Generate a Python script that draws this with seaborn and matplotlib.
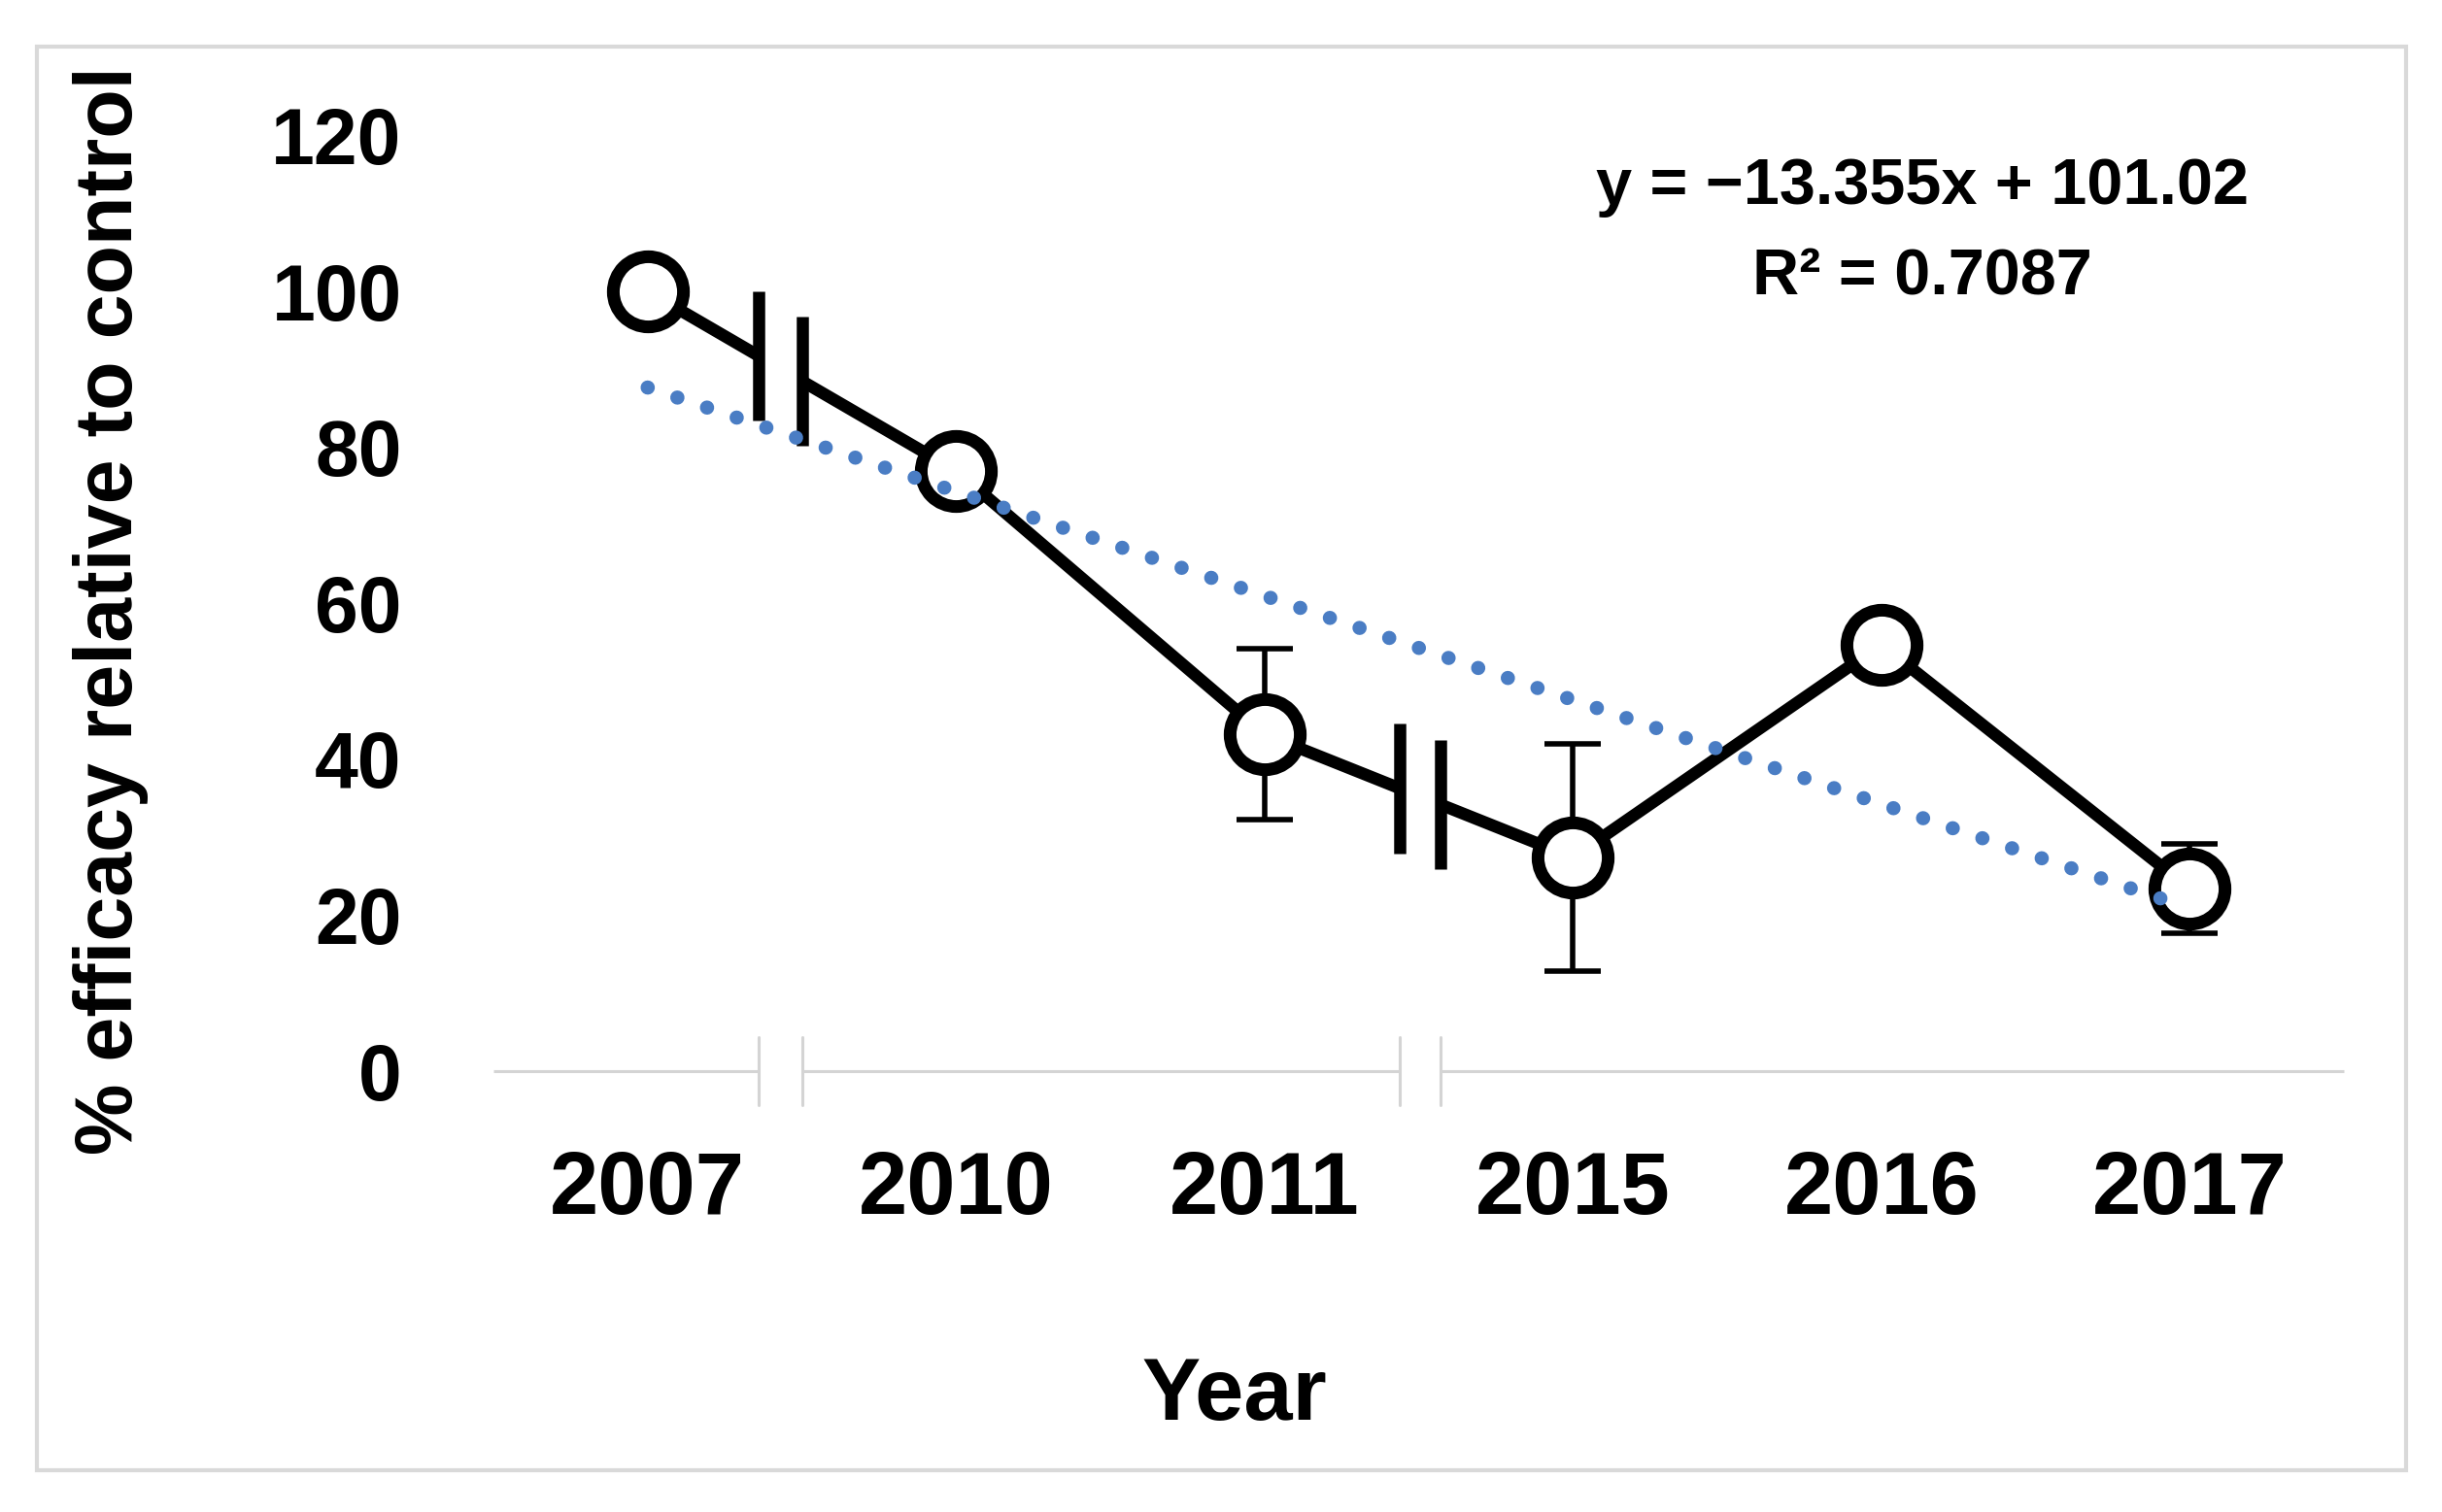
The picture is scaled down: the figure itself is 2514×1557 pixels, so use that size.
import numpy as np
import matplotlib
matplotlib.use("Agg")
import matplotlib.pyplot as plt
from matplotlib.patches import Rectangle
import seaborn as sns

# values
years = ["2007", "2010", "2011", "2015", "2016", "2017"]
efficacy = [100, 77, 43.2, 27.4, 54.7, 23.4]
err = [0, 0, 11, 14.6, 0, 5.7]

# Excel linear trendline shown on the chart
slope = -13.355
intercept = 101.02
r2 = 0.7087

# axis breaks: (start, end) between categories
breaks = [(0.36, 0.50), (2.44, 2.57)]

sns.set_style("white")
plt.rcParams["font.family"] = ["Liberation Sans", "DejaVu Sans"]
plt.rcParams["font.weight"] = "bold"
for key in ("text.color", "axes.labelcolor", "xtick.color", "ytick.color"):
    plt.rcParams[key] = "black"

fig = plt.figure(figsize=(25.14, 15.57), dpi=100)
ax = fig.add_axes([508 / 2514, 1 - 1103 / 1557, 1905 / 2514, 963.6 / 1557])

xpos = np.arange(len(years))

ax.errorbar(xpos, efficacy, yerr=err, fmt="none", ecolor="black",
            elinewidth=4, capsize=21, capthick=4, zorder=1.5)

sns.lineplot(x=xpos, y=efficacy, ax=ax, color="black", linewidth=9,
             marker="o", markersize=52, markerfacecolor="white",
             markeredgecolor="black", markeredgewidth=9.4, zorder=2)

# trendline
tx = xpos
ty = slope * (tx + 1) + intercept
ax.plot(tx, ty, color="#4A7DC4", linewidth=10.5, linestyle=(0, (0.01, 2.2)),
        dash_capstyle="round", zorder=4)

# break marks on the series and on the x axis
gray = "#d4d4d4"
for b1, b2 in breaks:
    y1 = np.interp(b1, xpos, efficacy)
    y2 = np.interp(b2, xpos, efficacy)
    ax.plot([b1, b2], [y1, y2], color="white", linewidth=16,
            solid_capstyle="butt", zorder=2.5)
    for bx, by in ((b1, y1), (b2, y2)):
        ax.plot([bx, bx], [by - 8.3, by + 8.3], color="black", linewidth=9,
                solid_capstyle="butt", zorder=3)
        ax.plot([bx, bx], [-4.3, 4.3], color=gray, linewidth=2.2,
                clip_on=False, zorder=1)

# gapped x axis line
starts = [-0.5] + [b[1] for b in breaks]
ends = [b[0] for b in breaks] + [5.5]
for s, e in zip(starts, ends):
    ax.plot([s, e], [0, 0], color=gray, linewidth=2.2, clip_on=False,
            solid_capstyle="butt", zorder=1)

ax.set_xlim(-0.5, 5.5)
ax.set_ylim(0, 120)
ax.set_yticks(range(0, 121, 20))
ax.set_xticks(xpos)
ax.set_xticklabels(years)
for s in ax.spines.values():
    s.set_visible(False)
ax.tick_params(axis="x", length=0, pad=58, labelsize=65)
ax.tick_params(axis="y", length=0, pad=68, labelsize=58)
for lab in ax.get_xticklabels() + ax.get_yticklabels():
    lab.set_fontweight("bold")

ax.set_ylabel("% efficacy relative to control", fontsize=59.5, fontweight="bold")
ax.yaxis.label.set_va("center")
ax.yaxis.set_label_coords(-0.2068, 0.492)
ax.set_xlabel("Year", fontsize=65, fontweight="bold")
ax.xaxis.label.set_va("baseline")
ax.xaxis.set_label_coords((1271 - 508) / 1905, (1103 - 1462) / 963.6)

fig.text(1979 / 2514, 1 - 210 / 1557, f"y = \u2212{abs(slope)}x + {intercept}",
         ha="center", va="baseline", fontsize=48, fontweight="bold")
fig.text(1979 / 2514, 1 - 303 / 1557, f"R\u00b2 = {r2}",
         ha="center", va="baseline", fontsize=48, fontweight="bold")

fig.patches.append(Rectangle((38 / 2514, 1 - 1514 / 1557), (2477 - 38) / 2514,
                             (1514 - 48) / 1557, transform=fig.transFigure,
                             fill=False, edgecolor="#d9d9d9", linewidth=3))

fig.savefig("out.png", dpi=100)
